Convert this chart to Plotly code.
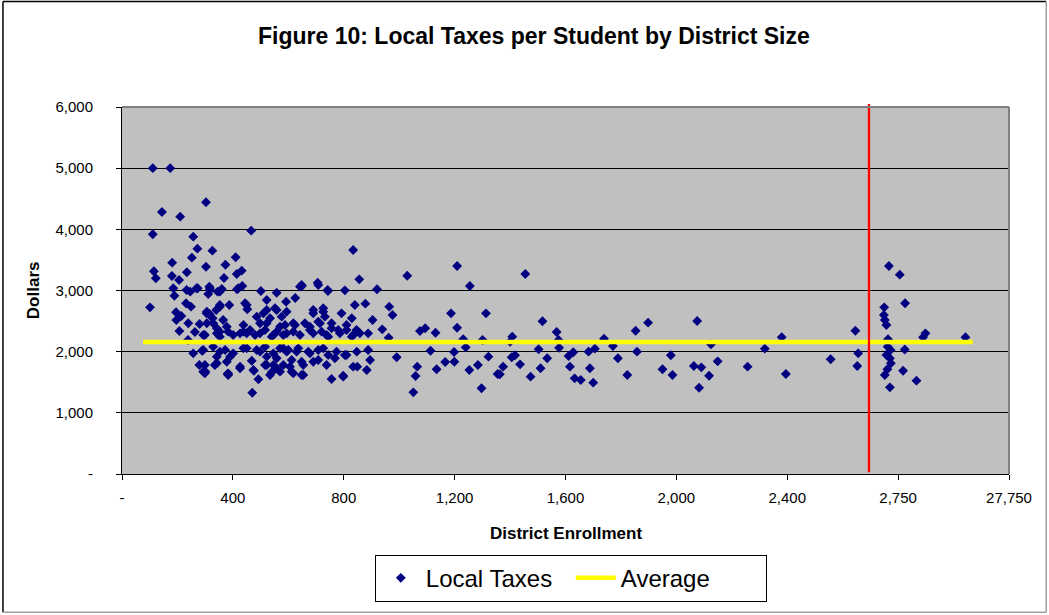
import numpy as np
import plotly.graph_objects as go

# ---------------- data ----------------
enrollment = [
    111, 174, 303, 144, 210, 111, 466, 257, 272, 326, 252, 410, 181, 303, 373, 115, 122, 234, 180, 368,
    414, 432, 206, 649, 185, 189, 246, 273, 315, 311, 345, 415, 434, 501, 558, 625, 101, 231, 249, 387,
    444, 452, 195, 214, 196, 280, 316, 340, 353, 207, 257, 289, 279, 301, 342, 381, 426, 468, 476, 492,
    470, 239, 311, 353, 438, 238, 263,
    317, 360, 420, 592, 306, 522, 552, 576, 327, 365, 306, 438, 498, 534, 588, 342, 383, 462, 516, 558,
    426, 299, 353, 480, 540, 582, 293, 329, 372, 401, 438, 486, 516, 570, 594, 342, 390, 522, 558, 299,
    335, 426, 516, 546, 582, 293, 383, 540, 570,
    642, 708, 742, 690, 726, 829, 594, 732, 624, 660, 708, 756, 810, 618, 678, 720, 780, 852, 888, 744,
    829, 600, 636, 672, 708, 744, 804, 847, 888, 612, 648, 708, 768, 895, 612, 648, 756, 883,
    834, 1209, 1029, 1255, 856, 706, 743, 804, 920, 878, 964, 976, 1187, 1313, 1209, 792, 904, 939, 1075, 1094,
    1131, 962, 858, 1231, 1301, 1240, 1113, 1198, 1322, 991, 1065, 1135, 1166, 1199, 1253, 1284, 1355, 1059, 1051, 1297,
    798, 849,
    1455, 1517, 1568, 1575, 1408, 1400, 1853, 1898, 2075, 1739, 1771, 2125, 2319, 1503, 1577, 1858, 1418, 1406, 1534, 1628,
    1611, 1683, 1706, 1789, 1980, 2149, 1436, 1375, 1363, 1510, 1616, 1688, 1474, 1633, 1655, 1700, 1823, 1950, 1986, 2063,
    2090, 2118, 2082, 2257,
    2380, 2395, 2537, 2615, 2624, 2621,
    2721, 3122, 4317, 2706, 2705, 2708, 2713, 2718, 2717, 2726, 2713, 2724, 2727, 2716, 2708, 2724, 3866, 4249, 6886, 8915,
    8374, 17931,
    233, 269, 317, 353, 648, 305, 353, 450, 522, 510, 558, 690, 726, 840, 329, 378, 486, 522, 570, 618,
    678, 714, 756, 810, 846, 293, 342, 401, 450, 498, 546, 594, 642, 690, 738, 786, 834, 353, 450, 498,
    546, 582, 630, 678, 726, 774, 810, 378, 474, 522, 558, 606, 654, 690, 738, 834, 299, 383, 534, 618,
    654, 798,
]
local_taxes = [
    5000, 5000, 4442, 4284, 4207, 3919, 3978, 3880, 3684, 3651, 3537, 3543, 3455, 3389, 3422, 3314, 3200, 3298, 3237, 3205,
    3270, 3324, 3172, 3074, 3036, 2915, 2981, 3036, 3063, 2943, 2981, 3020, 3074, 2992, 2964, 2878, 2725, 2791, 2736, 2763,
    2791, 2693, 2644, 2583, 2518, 2453, 2611, 2681, 2763, 2338, 1973, 2016, 1782, 1673, 1810, 1635, 1728, 1852, 1689, 1548,
    1329, 2464, 2627, 2327, 2327, 2191, 2322,
    3008, 3025, 3036, 2817, 2654, 2681, 2709, 2572, 2546, 2518, 2464, 2436, 2464, 2546, 2436, 2382, 2327, 2354, 2354, 2327,
    2300, 2273, 2245, 2273, 2245, 2273, 2027, 2081, 2027, 1973, 2055, 2027, 2081, 2055, 2000, 1918, 1918, 1918, 1892, 1782,
    1782, 1755, 1782, 1782, 1782, 1673, 1646, 1663, 1673,
    3063, 3090, 3008, 2681, 2709, 2546, 2654, 2572, 2436, 2464, 2491, 2464, 2436, 2327, 2354, 2327, 2354, 2327, 2300, 2245,
    2245, 2027, 2055, 2000, 2027, 1946, 1946, 2000, 2027, 1864, 1836, 1864, 1892, 1864, 1673, 1619, 1553, 1700,
    3662, 3401, 3242, 3074, 3182, 3128, 2992, 3003, 3020, 2785, 2736, 2600, 2627, 2627, 2392, 2627, 2518, 2365, 2338, 2382,
    2310, 2229, 2300, 2202, 2191, 2071, 2016, 1995, 1918, 1908, 1755, 1712, 1831, 1836, 1700, 1782, 1635, 1602, 1335, 1401,
    1607, 1755,
    3270, 2497, 2322, 2191, 2245, 2163, 2343, 2474, 2502, 2213, 2093, 2120, 2049, 2039, 2065, 2000, 1941, 1908, 1892, 1990,
    1929, 2000, 2049, 1892, 1941, 1842, 1793, 1755, 1630, 1728, 1755, 1728, 1591, 1564, 1537, 1493, 1619, 1712, 1619, 1766,
    1744, 1607, 1411, 1755,
    2235, 1635, 1875, 2343, 1973, 1766,
    3401, 3259, 2791, 2725, 2600, 2518, 2436, 2202, 2082, 2027, 1946, 1892, 1810, 1712, 1619, 1417, 1689, 2036, 1526, 2300,
    2235, 2235,
    3008, 3036, 3036, 2981, 3090, 2627, 2735, 2763, 2845, 2627, 2681, 2627, 2654, 2763, 2464, 2408, 2572, 2464, 2408, 2464,
    2408, 2464, 2382, 2354, 2354, 2273, 2300, 2273, 2300, 2300, 2273, 2300, 2273, 2300, 2273, 2300, 2273, 2000, 2055, 2000,
    1973, 2055, 2000, 1973, 2055, 2000, 1946, 1836, 1700, 1782, 1728, 1755, 1782, 1836, 1782, 1755, 1646, 1619, 1619, 1646,
    1619, 1591,
]
average_x = [76, 19577]
average_y = [2160, 2160]
threshold_enrollment = 2658

# broken x-axis: tick labels and where they sit
x_tick_labels = ["-", "400", "800", "1,200", "1,600", "2,000", "2,400", "2,750", "27,750"]
x_tick_enroll = [0, 400, 800, 1200, 1600, 2000, 2400, 2750, 27750]
x_tick_pos = [0, 400, 800, 1200, 1600, 2000, 2400, 2800, 3200]
y_tick_vals = [0, 1000, 2000, 3000, 4000, 5000, 6000]
y_tick_labels = ["-", "1,000", "2,000", "3,000", "4,000", "5,000", "6,000"]


def axis_pos(v):
    return np.interp(np.asarray(v, dtype=float), x_tick_enroll, x_tick_pos)


FONT = "Liberation Sans, Arial, sans-serif"

fig = go.Figure()
fig.add_trace(go.Scatter(
    x=axis_pos(enrollment), y=local_taxes, mode="markers", name="Local Taxes",
    marker=dict(symbol="diamond", size=7.6, color="#000080", line=dict(width=0)),
))
fig.add_trace(go.Scatter(
    x=axis_pos(average_x), y=average_y, mode="lines", name="Average",
    line=dict(color="#FFFF00", width=4.5),
))

tx = float(axis_pos(threshold_enrollment))

shapes = [
    # red threshold line
    dict(type="line", xref="x", yref="paper", x0=tx, x1=tx, y0=0.005, y1=1.008,
         line=dict(color="#FF0000", width=2.3), layer="above"),
    # plot-area border top / right (gray)
    dict(type="line", xref="paper", yref="paper", x0=0, x1=1, y0=1, y1=1,
         line=dict(color="#808080", width=2), layer="above"),
    dict(type="line", xref="paper", yref="paper", x0=1, x1=1, y0=0, y1=1,
         line=dict(color="#808080", width=2), layer="above"),
    # outer chart frame
    dict(type="line", xref="paper", yref="paper", x0=-0.1342, x1=1.042, y0=1.2875, y1=1.2875,
         line=dict(color="#000000", width=1.5)),
    dict(type="line", xref="paper", yref="paper", x0=-0.1342, x1=-0.1342, y0=-0.377, y1=1.2875,
         line=dict(color="#000000", width=1.5)),
    dict(type="line", xref="paper", yref="paper", x0=-0.1342, x1=1.042, y0=-0.377, y1=-0.377,
         line=dict(color="#A0A0A0", width=1.5)),
    dict(type="line", xref="paper", yref="paper", x0=1.042, x1=1.042, y0=-0.377, y1=1.2875,
         line=dict(color="#A0A0A0", width=1.5)),
]

annotations = [
    dict(text="<b>District Enrollment</b>", xref="paper", yref="paper", x=0.5, y=-0.161,
         xanchor="center", yanchor="middle", showarrow=False,
         font=dict(family=FONT, size=17, color="black")),
    dict(text="<b>Dollars</b>", xref="paper", yref="paper", x=-0.1003, y=0.501,
         xanchor="center", yanchor="middle", showarrow=False, textangle=-90,
         font=dict(family=FONT, size=17, color="black")),
]

fig.update_layout(
    width=1049, height=615,
    margin=dict(l=122, r=40, t=107, b=141, pad=0),
    paper_bgcolor="white", plot_bgcolor="#C0C0C0",
    font=dict(family=FONT, color="black"),
    title=dict(text="<b>Figure 10: Local Taxes per Student by District Size</b>",
               x=0.509, xref="container", xanchor="center",
               y=1 - 36 / 615, yref="container", yanchor="middle",
               font=dict(family=FONT, size=23, color="black")),
    xaxis=dict(range=[0, 3200], tickvals=x_tick_pos, ticktext=x_tick_labels,
               showgrid=False, zeroline=False, showline=True, linecolor="black", linewidth=1,
               ticks="outside", ticklen=5, tickcolor="black", tickwidth=1,
               ticklabelstandoff=5,
               tickfont=dict(family=FONT, size=15, color="black")),
    yaxis=dict(range=[0, 6000], tickvals=y_tick_vals, ticktext=y_tick_labels,
               showgrid=True, gridcolor="black", gridwidth=1, zeroline=False,
               showline=True, linecolor="black", linewidth=1,
               ticks="outside", ticklen=5, tickcolor="black", tickwidth=1,
               ticklabelstandoff=20,
               tickfont=dict(family=FONT, size=15, color="black")),
    showlegend=True,
    legend=dict(orientation="h", x=0.506, xanchor="center", y=-0.22, yanchor="top",
                bgcolor="white", bordercolor="black", borderwidth=1,
                itemwidth=40, entrywidth=140, entrywidthmode="pixels",
                font=dict(family=FONT, size=24, color="black")),
    shapes=shapes,
    annotations=annotations,
)

fig.write_html("out.html")
